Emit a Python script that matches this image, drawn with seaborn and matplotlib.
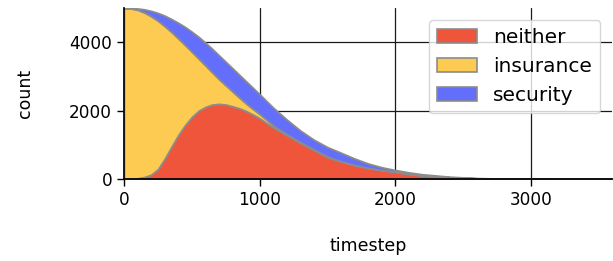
import numpy as np
import pandas as pd
import matplotlib
matplotlib.use("Agg")
import matplotlib.pyplot as plt
import seaborn as sns

timestep = [0, 50, 100, 150, 200, 250, 300, 350, 400, 450, 500, 550, 600, 650, 700,
            750, 800, 850, 900, 950, 1000, 1100, 1200, 1300, 1400, 1500, 1600, 1700,
            1800, 1900, 2000, 2100, 2200, 2400, 2600, 2800, 3000, 3200, 3600]

neither = [0, 5, 25, 60, 130, 290, 600, 950, 1290, 1580, 1820, 2000, 2110, 2180, 2200,
           2180, 2130, 2070, 1990, 1890, 1780, 1510, 1280, 1060, 850, 645, 510, 405,
           320, 260, 210, 150, 105, 50, 20, 8, 2, 0, 0]

insurance = [5000, 4985, 4925, 4810, 4630, 4340, 3870, 3350, 2820, 2340, 1900, 1520, 1210,
             940, 720, 560, 430, 310, 220, 160, 120, 60, 30, 20, 15, 12, 10, 8,
             6, 5, 4, 3, 2, 1, 0, 0, 0, 0, 0]

security = [0, 10, 40, 95, 160, 230, 310, 380, 460, 530, 590, 640, 670, 690, 700,
            690, 680, 670, 650, 620, 580, 520, 430, 340, 285, 278, 250, 187,
            129, 80, 51, 42, 33, 19, 10, 4, 2, 1, 0]

labels = ["neither", "insurance", "security"]
colors = ["#EF553B", "#FECB52", "#636EFA"]

df = pd.DataFrame({
    "timestep": timestep,
    "neither": neither,
    "insurance": insurance,
    "security": security,
})

sns.set_theme(style="white", rc={
    "axes.edgecolor": "black",
    "axes.labelcolor": "black",
    "text.color": "black",
    "xtick.bottom": True,
    "ytick.left": True,
    "xtick.color": "black",
    "ytick.color": "black",
    "axes.axisbelow": True,
})
plt.rcParams["font.family"] = ["DejaVu Sans"]

fig, ax = plt.subplots(figsize=(6.13, 2.61), dpi=100)
fig.subplots_adjust(left=0.2023, right=0.999, top=0.969, bottom=0.314)

# stacked areas, bottom to top: neither, insurance, security
ax.stackplot(
    df["timestep"],
    df[labels].T.values,
    labels=labels,
    colors=colors,
    edgecolor="#8c8c8c",
    linewidth=1.2,
)

ax.grid(True, color="#1a1a1a", linewidth=0.9)

ax.set_xlim(0, 3600)
ax.set_ylim(0, 5000)
ax.set_xticks([0, 1000, 2000, 3000])
ax.set_yticks([0, 2000, 4000])
ax.tick_params(axis="both", labelsize=12.2, length=5, width=1, colors="black")

ax.set_xlabel("timestep", fontsize=12.5, labelpad=20)
ax.set_ylabel("count", fontsize=12.5, labelpad=25)

sns.despine(ax=ax)

ax.legend(loc="upper right", fontsize=14.5, borderaxespad=0.6)

plt.savefig("out.png", dpi=100)
